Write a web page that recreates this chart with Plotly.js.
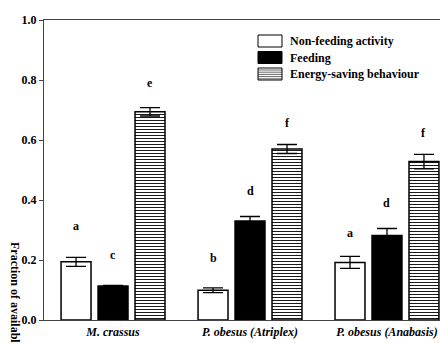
<!DOCTYPE html>
<html>
<head>
<meta charset="utf-8">
<script src="https://cdn.plot.ly/plotly-3.0.1.min.js"></script>
<style>html,body{margin:0;padding:0;background:#fff;}#chart{width:440px;height:343px;}</style>
</head>
<body>
<div id="chart"></div>
<script>
const categories = ["M. crassus", "P. obesus (Atriplex)", "P. obesus (Anabasis)"];
const seriesNames = ["Non-feeding activity", "Feeding", "Energy-saving behaviour"];
const nonFeeding = [0.194, 0.099, 0.192];
const nonFeedingErr = [0.015, 0.008, 0.020];
const feeding = [0.113, 0.330, 0.282];
const feedingErr = [0.002, 0.015, 0.023];
const energySaving = [0.694, 0.570, 0.528];
const energySavingErr = [0.014, 0.015, 0.024];
const nonFeedingLetters = ["a", "b", "a"];
const feedingLetters = ["c", "d", "d"];
const energySavingLetters = ["e", "f", "f"];
const nonFeedingLetterY = [0.313, 0.207, 0.289];
const feedingLetterY = [0.217, 0.431, 0.389];
const energySavingLetterY = [0.790, 0.656, 0.622];

const FONT = "Liberation Serif";
const outline = {color: "black", width: 1.5};
const errStyle = (arr) => ({type: "data", array: arr, visible: true, color: "black", thickness: 1.3, width: 10});
const hatch = {shape: "-", size: 3, solidity: 0.3, fgcolor: "black", bgcolor: "white"};

const traces = [
  {type: "bar", name: seriesNames[0], x: categories, y: nonFeeding,
   marker: {color: "white", line: outline}, error_y: errStyle(nonFeedingErr)},
  {type: "bar", name: seriesNames[1], x: categories, y: feeding,
   marker: {color: "black", line: outline}, error_y: errStyle(feedingErr)},
  {type: "bar", name: seriesNames[2], x: categories, y: energySaving,
   marker: {color: "white", line: outline, pattern: hatch},
   error_y: errStyle(energySavingErr)}
];

// pixel -> paper helpers (plot area: x 44..440, y 20..320)
const px = (p) => (p - 44) / 396;
const py = (p) => (320 - p) / 300;

const annotations = [];
const shapes = [];
const groups = [[nonFeedingLetters, nonFeedingLetterY, -0.27], [feedingLetters, feedingLetterY, 0], [energySavingLetters, energySavingLetterY, 0.27]];
groups.forEach(([letters, ys, off]) => {
  letters.forEach((t, i) => {
    annotations.push({x: i + off, y: ys[i], xref: "x", yref: "y", text: t, showarrow: false,
      font: {family: FONT, size: 12, color: "black", weight: "bold"}});
  });
});
annotations.push({xref: "paper", yref: "paper", x: px(15), y: py(240),
  xanchor: "center", yanchor: "top", textangle: 90, showarrow: false,
  text: "Fraction of available time", font: {family: FONT, size: 12, color: "black", weight: "bold"}});

// custom legend (boxes 24x12, rows every 16.5 px)
const legendFills = ["white", "black", "white"];
seriesNames.forEach((name, k) => {
  const top = 35 + k * 16.5, bot = top + 12;
  shapes.push({type: "rect", xref: "paper", yref: "paper", x0: px(258), x1: px(282), y0: py(bot), y1: py(top),
    fillcolor: legendFills[k], line: {color: "black", width: 1}});
  if (k === 2) {
    for (let yy = top + 2; yy < bot - 0.5; yy += 2.2) {
      shapes.push({type: "line", xref: "paper", yref: "paper", x0: px(258), x1: px(282), y0: py(yy), y1: py(yy),
        line: {color: "black", width: 0.6}});
    }
  }
  annotations.push({xref: "paper", yref: "paper", x: px(288), y: py((top + bot) / 2), xanchor: "left", yanchor: "middle",
    text: name, showarrow: false, font: {family: FONT, size: 12, color: "black", weight: "bold"}});
});

const layout = {
  width: 440, height: 343,
  margin: {l: 44, r: 0, t: 20, b: 23},
  paper_bgcolor: "white", plot_bgcolor: "white",
  barmode: "group", bargap: 0.19, bargroupgap: 0.19,
  showlegend: false,
  xaxis: {range: [-0.504, 2.387], showgrid: false, zeroline: false, showline: true, linecolor: "#444",
          linewidth: 1.2, mirror: true, ticks: "", tickfont: {family: FONT, size: 12, color: "black", weight: "bold", style: "italic"}},
  yaxis: {range: [0, 1], dtick: 0.2, tickformat: ".1f", showgrid: false, zeroline: false, showline: true,
          linecolor: "#444", linewidth: 1.2, ticks: "outside", ticklen: 4, tickcolor: "#444",
          tickfont: {family: FONT, size: 12, color: "black", weight: "bold"}},
  annotations: annotations,
  shapes: shapes
};

Plotly.newPlot("chart", traces, layout, {displayModeBar: false, staticPlot: true});
</script>
</body>
</html>
